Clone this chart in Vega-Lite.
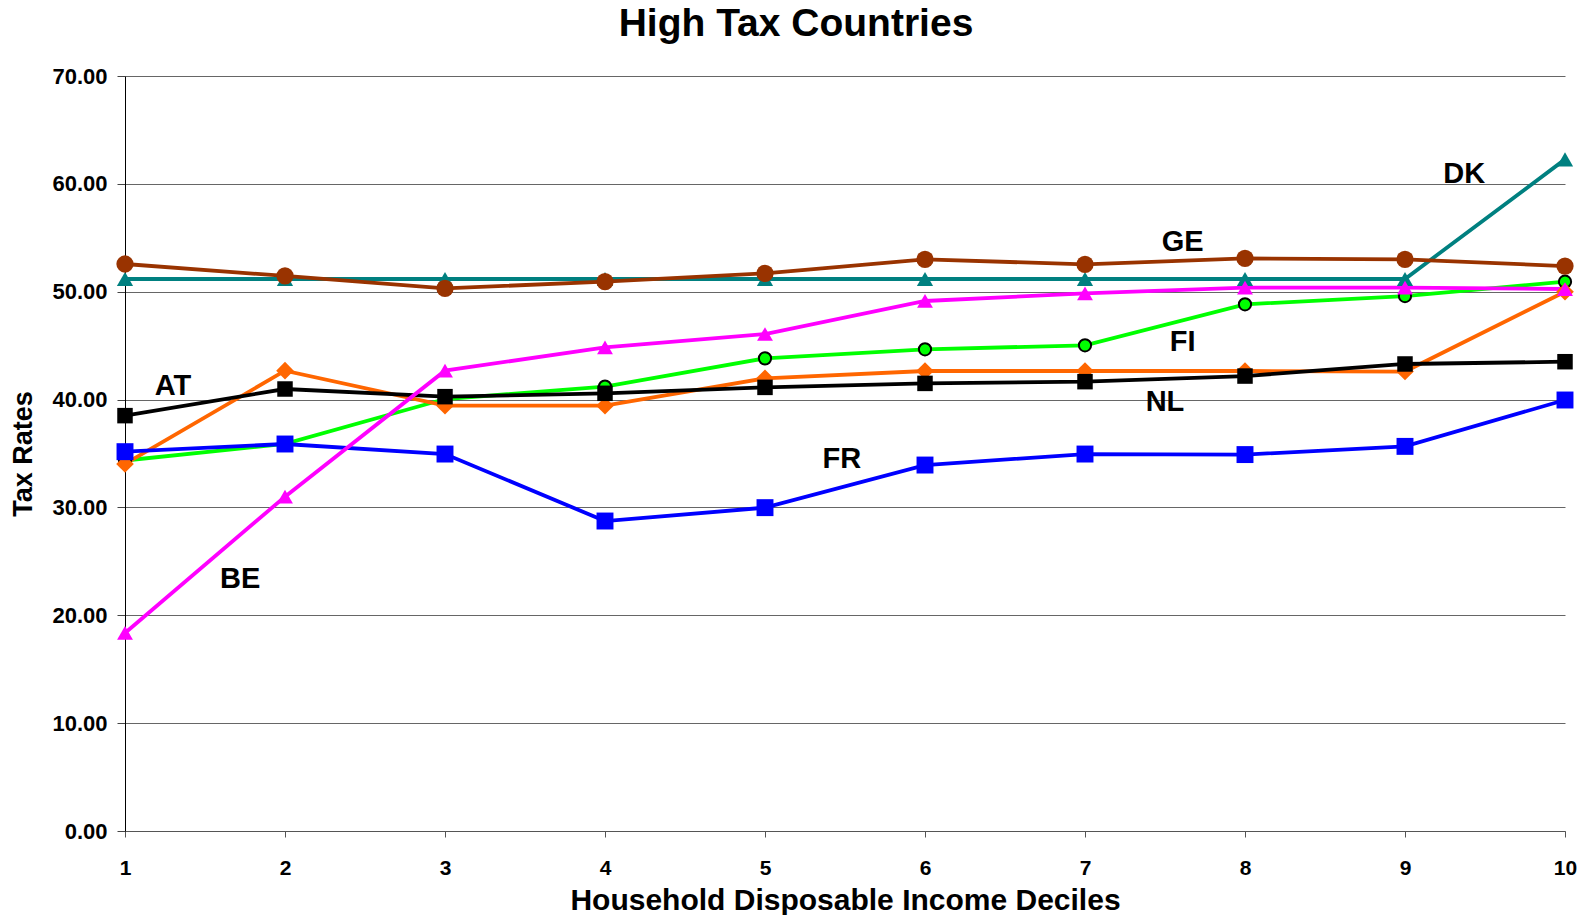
{
  "$schema": "https://vega.github.io/schema/vega-lite/v6.json",
  "width": 1440,
  "height": 755,
  "autosize": {"type": "none"},
  "padding": {"left": 125, "top": 76, "right": 15, "bottom": 84},
  "background": "white",
  "config": {
    "view": {"stroke": null},
    "font": "Liberation Sans",
    "axis": {
      "labelFont": "Liberation Sans",
      "labelFontWeight": "bold",
      "labelColor": "black",
      "titleFont": "Liberation Sans",
      "titleFontWeight": "bold",
      "titleColor": "black"
    }
  },
  "title": {
    "text": "High Tax Countries",
    "font": "Liberation Sans",
    "fontSize": 39,
    "fontWeight": "bold",
    "color": "black",
    "anchor": "middle",
    "frame": "group",
    "dx": -49,
    "offset": 21
  },
  "datasets": {
    "rates": [
      {"country": "DK", "decile": 1, "rate": 51.18},
      {"country": "DK", "decile": 2, "rate": 51.18},
      {"country": "DK", "decile": 3, "rate": 51.18},
      {"country": "DK", "decile": 4, "rate": 51.18},
      {"country": "DK", "decile": 5, "rate": 51.18},
      {"country": "DK", "decile": 6, "rate": 51.18},
      {"country": "DK", "decile": 7, "rate": 51.18},
      {"country": "DK", "decile": 8, "rate": 51.18},
      {"country": "DK", "decile": 9, "rate": 51.18},
      {"country": "DK", "decile": 10, "rate": 62.27},
      {"country": "GE", "decile": 1, "rate": 52.57},
      {"country": "GE", "decile": 2, "rate": 51.46},
      {"country": "GE", "decile": 3, "rate": 50.31},
      {"country": "GE", "decile": 4, "rate": 50.93},
      {"country": "GE", "decile": 5, "rate": 51.7},
      {"country": "GE", "decile": 6, "rate": 53.0},
      {"country": "GE", "decile": 7, "rate": 52.54},
      {"country": "GE", "decile": 8, "rate": 53.09},
      {"country": "GE", "decile": 9, "rate": 53.0},
      {"country": "GE", "decile": 10, "rate": 52.38},
      {"country": "FI", "decile": 1, "rate": 34.35},
      {"country": "FI", "decile": 2, "rate": 35.9},
      {"country": "FI", "decile": 3, "rate": 40.05},
      {"country": "FI", "decile": 4, "rate": 41.2},
      {"country": "FI", "decile": 5, "rate": 43.82},
      {"country": "FI", "decile": 6, "rate": 44.66},
      {"country": "FI", "decile": 7, "rate": 45.03},
      {"country": "FI", "decile": 8, "rate": 48.83},
      {"country": "FI", "decile": 9, "rate": 49.6},
      {"country": "FI", "decile": 10, "rate": 50.93},
      {"country": "NL", "decile": 1, "rate": 34.03},
      {"country": "NL", "decile": 2, "rate": 42.68},
      {"country": "NL", "decile": 3, "rate": 39.43},
      {"country": "NL", "decile": 4, "rate": 39.43},
      {"country": "NL", "decile": 5, "rate": 41.97},
      {"country": "NL", "decile": 6, "rate": 42.65},
      {"country": "NL", "decile": 7, "rate": 42.65},
      {"country": "NL", "decile": 8, "rate": 42.65},
      {"country": "NL", "decile": 9, "rate": 42.6},
      {"country": "NL", "decile": 10, "rate": 50.0},
      {"country": "AT", "decile": 1, "rate": 38.51},
      {"country": "AT", "decile": 2, "rate": 40.98},
      {"country": "AT", "decile": 3, "rate": 40.27},
      {"country": "AT", "decile": 4, "rate": 40.58},
      {"country": "AT", "decile": 5, "rate": 41.13},
      {"country": "AT", "decile": 6, "rate": 41.5},
      {"country": "AT", "decile": 7, "rate": 41.66},
      {"country": "AT", "decile": 8, "rate": 42.18},
      {"country": "AT", "decile": 9, "rate": 43.3},
      {"country": "AT", "decile": 10, "rate": 43.51},
      {"country": "FR", "decile": 1, "rate": 35.17},
      {"country": "FR", "decile": 2, "rate": 35.88},
      {"country": "FR", "decile": 3, "rate": 34.95},
      {"country": "FR", "decile": 4, "rate": 28.74},
      {"country": "FR", "decile": 5, "rate": 29.98},
      {"country": "FR", "decile": 6, "rate": 33.93},
      {"country": "FR", "decile": 7, "rate": 34.95},
      {"country": "FR", "decile": 8, "rate": 34.9},
      {"country": "FR", "decile": 9, "rate": 35.66},
      {"country": "FR", "decile": 10, "rate": 39.96},
      {"country": "BE", "decile": 1, "rate": 18.36},
      {"country": "BE", "decile": 2, "rate": 31.0},
      {"country": "BE", "decile": 3, "rate": 42.68},
      {"country": "BE", "decile": 4, "rate": 44.84},
      {"country": "BE", "decile": 5, "rate": 46.08},
      {"country": "BE", "decile": 6, "rate": 49.14},
      {"country": "BE", "decile": 7, "rate": 49.85},
      {"country": "BE", "decile": 8, "rate": 50.38},
      {"country": "BE", "decile": 9, "rate": 50.38},
      {"country": "BE", "decile": 10, "rate": 50.25}
    ],
    "labels": [
      {"country": "AT", "decile": 1.3, "rate": 41.26},
      {"country": "BE", "decile": 1.72, "rate": 23.36},
      {"country": "DK", "decile": 9.37, "rate": 60.96},
      {"country": "FI", "decile": 7.61, "rate": 45.37},
      {"country": "FR", "decile": 5.48, "rate": 34.49},
      {"country": "GE", "decile": 7.61, "rate": 54.6},
      {"country": "NL", "decile": 7.5, "rate": 39.73}
    ]
  },
  "encoding": {
    "x": {
      "field": "decile",
      "type": "quantitative",
      "scale": {"domain": [1, 10], "nice": false, "zero": false},
      "axis": {
        "title": "Household Disposable Income Deciles",
        "titleFontSize": 30,
        "titlePadding": 7,
        "values": [1, 2, 3, 4, 5, 6, 7, 8, 9, 10],
        "format": "d",
        "grid": false,
        "labelFontSize": 21,
        "labelPadding": 20,
        "labelFlush": false,
        "tickSize": 6,
        "tickColor": "#555555",
        "domainColor": "#555555"
      }
    },
    "y": {
      "field": "rate",
      "type": "quantitative",
      "scale": {"domain": [0, 70], "nice": false},
      "axis": {
        "title": "Tax Rates",
        "titleFontSize": 27,
        "titlePadding": 14,
        "values": [0, 10, 20, 30, 40, 50, 60, 70],
        "format": ".2f",
        "labelFontSize": 22,
        "labelPadding": 10,
        "tickSize": 8,
        "tickColor": "#444444",
        "domainColor": "black",
        "grid": true,
        "gridColor": "#666666",
        "gridWidth": 1
      }
    }
  },
  "layer": [
    {
      "data": {"name": "rates"},
      "mark": {"type": "line", "strokeWidth": 3.8},
      "encoding": {
        "color": {
          "field": "country",
          "type": "nominal",
          "legend": null,
          "scale": {
            "domain": ["AT", "BE", "DK", "FI", "FR", "GE", "NL"],
            "range": ["#000000", "#FF00FF", "#008080", "#00FF00", "#0000FF", "#993300", "#FF6600"]
          }
        }
      }
    },
    {
      "data": {"name": "rates"},
      "transform": [{"filter": "datum.country === 'FI'"}],
      "mark": {"type": "point", "shape": "circle", "filled": true, "fill": "#00FF00", "stroke": "black", "strokeWidth": 2, "size": 150, "opacity": 1}
    },
    {
      "data": {"name": "rates"},
      "transform": [{"filter": "datum.country !== 'FI'"}],
      "mark": {"type": "point", "filled": true, "opacity": 1},
      "encoding": {
        "color": {
          "field": "country",
          "type": "nominal",
          "legend": null,
          "scale": {
            "domain": ["AT", "BE", "DK", "FI", "FR", "GE", "NL"],
            "range": ["#000000", "#FF00FF", "#008080", "#00FF00", "#0000FF", "#993300", "#FF6600"]
          }
        },
        "shape": {
          "field": "country",
          "type": "nominal",
          "legend": null,
          "scale": {
            "domain": ["AT", "BE", "DK", "FI", "FR", "GE", "NL"],
            "range": ["square", "triangle-up", "triangle-up", "circle", "square", "circle", "diamond"]
          }
        },
        "size": {
          "field": "country",
          "type": "nominal",
          "legend": null,
          "scale": {
            "domain": ["AT", "BE", "DK", "FI", "FR", "GE", "NL"],
            "range": [240, 310, 280, 150, 240, 240, 270]
          }
        }
      }
    },
    {
      "data": {"name": "labels"},
      "mark": {"type": "text", "font": "Liberation Sans", "fontSize": 29, "fontWeight": "bold", "color": "black", "align": "center", "baseline": "middle"},
      "encoding": {
        "text": {"field": "country", "type": "nominal"}
      }
    }
  ]
}
